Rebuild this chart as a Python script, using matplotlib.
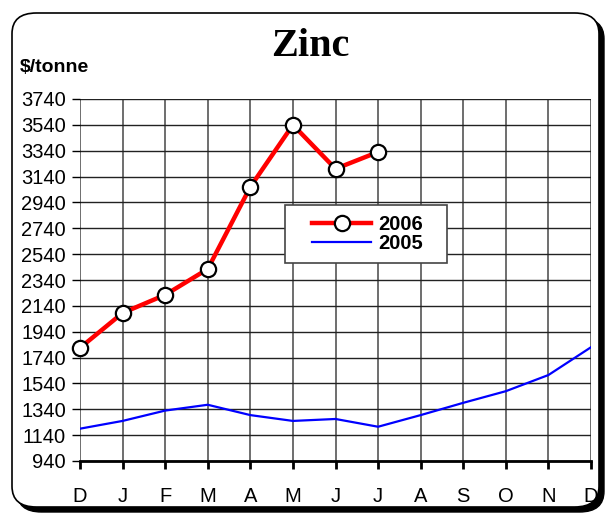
import matplotlib.pyplot as plt
from matplotlib.patches import FancyBboxPatch, Rectangle

months = ['D', 'J', 'F', 'M', 'A', 'M', 'J', 'J', 'A', 'S', 'O', 'N', 'D']
zinc_2006 = [1815, 2085, 2225, 2425, 3060, 3540, 3200, 3330]
zinc_2005 = [1190, 1250, 1330, 1375, 1295, 1250, 1265, 1205, 1295, 1390, 1480, 1605, 1820]
yticks = list(range(940, 3741, 200))

plt.rcParams['font.family'] = ['Liberation Sans', 'DejaVu Sans']

fig = plt.figure(figsize=(6.11, 5.18), dpi=100)
W, H = 611, 518

# rounded frame with a dark drop shadow
shadow = FancyBboxPatch((17 / W, 6 / H), 587 / W, 494 / H,
                        boxstyle='round,pad=0,rounding_size=0.04',
                        transform=fig.transFigure, facecolor='black',
                        edgecolor='black', zorder=-2)
frame = FancyBboxPatch((12 / W, 11 / H), 587 / W, 494 / H,
                       boxstyle='round,pad=0,rounding_size=0.04',
                       transform=fig.transFigure, facecolor='white',
                       edgecolor='black', linewidth=1.2, zorder=-1)
fig.patches.extend([shadow, frame])

ax = fig.add_axes([80 / W, 1 - 461 / H, (591 - 80) / W, (461 - 99) / H])
ax.set_facecolor('none')
x = list(range(len(months)))

ax.plot(x, zinc_2005, color='#0000ff', linewidth=1.6, label='2005', zorder=3)
ax.plot(x[:len(zinc_2006)], zinc_2006, color='#ff0000', linewidth=3.2,
        marker='o', markersize=11, markerfacecolor='white',
        markeredgecolor='black', markeredgewidth=1.6, label='2006',
        zorder=4, clip_on=False)

ax.set_xlim(0, 12)
ax.set_ylim(940, 3740)
ax.set_xticks(x)
ax.set_xticklabels(months)
ax.set_yticks(yticks)
ax.grid(axis='x', color='#6e6e6e', linewidth=1.4)
ax.grid(axis='y', color='#222222', linewidth=1.0)
for side in ['top', 'right', 'left']:
    ax.spines[side].set_visible(False)
ax.spines['bottom'].set_linewidth(2)
ax.tick_params(axis='x', length=6, width=2, labelsize=14.5, pad=13)
ax.tick_params(axis='y', length=6, width=1, labelsize=14.5, pad=4)

# legend box: white panel with a thin border, entries centred inside
box_x0, box_x1 = (285 - 80) / 511, (447 - 80) / 511
box_y0, box_y1 = (461 - 263) / 362, (461 - 205) / 362
ax.add_patch(Rectangle((box_x0, box_y0), box_x1 - box_x0, box_y1 - box_y0,
                       transform=ax.transAxes, facecolor='white',
                       edgecolor='#444444', linewidth=1.2, zorder=5))
handles, labels = ax.get_legend_handles_labels()
leg = ax.legend(handles[::-1], labels[::-1], loc='center',
                bbox_to_anchor=((box_x0 + box_x1) / 2 + 0.003,
                                (box_y0 + box_y1) / 2),
                prop={'weight': 'bold', 'size': 14.5}, frameon=False,
                borderpad=0, labelspacing=0.0, handlelength=2.9,
                handletextpad=0.35, borderaxespad=0)
leg.set_zorder(6)

fig.text(310 / W, 1 - 47 / H, 'Zinc', ha='center', va='center',
         fontsize=29, fontweight='bold', family='Liberation Serif')
fig.text(20 / W, 1 - 68 / H, '$/tonne', ha='left', va='center',
         fontsize=14, fontweight='bold')

fig.savefig('out.png', dpi=100)
